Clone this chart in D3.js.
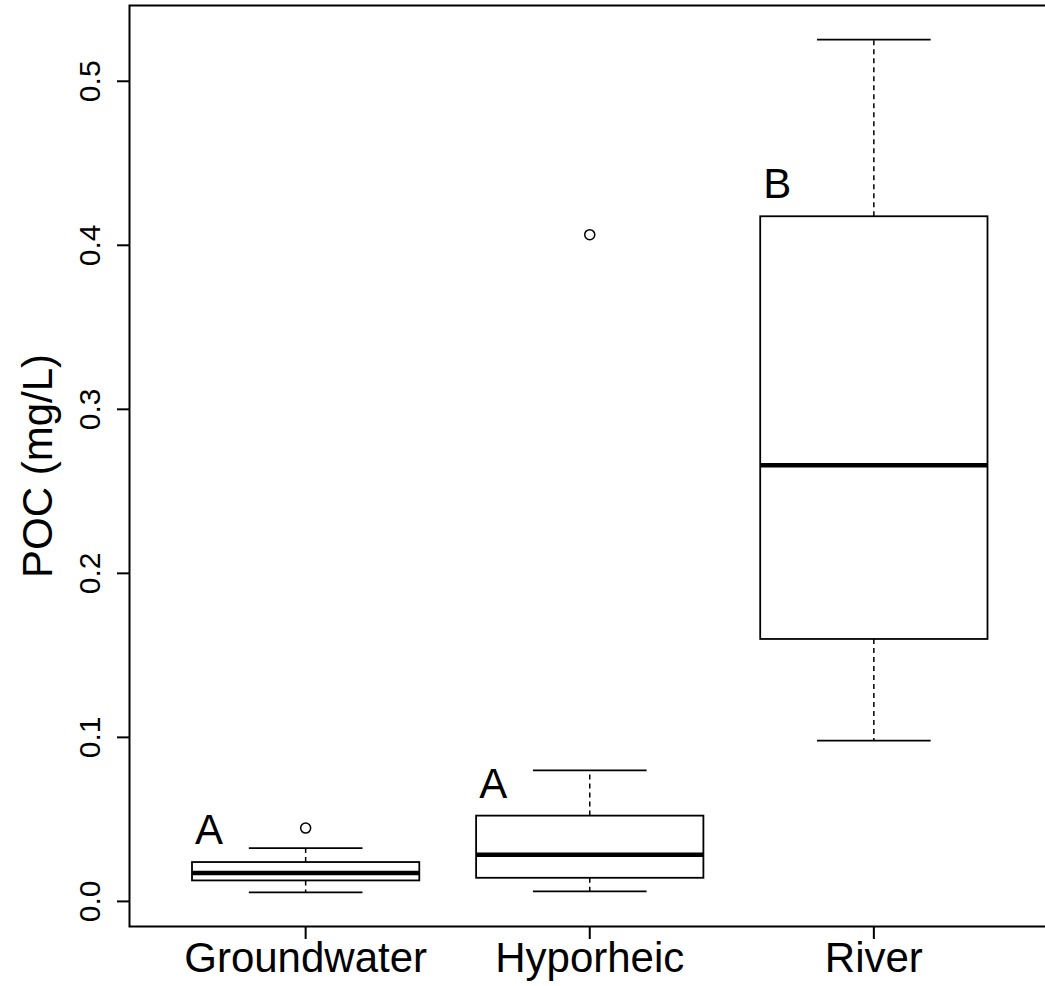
<!DOCTYPE html>
<html>
<head>
<meta charset="utf-8">
<script src="https://cdn.jsdelivr.net/npm/d3@7"></script>
<style>
  body { margin: 0; background: #fff; }
  text { font-family: "Liberation Sans", Arial, sans-serif; fill: #000; }
</style>
</head>
<body>
<div id="chart"></div>
<script>
// box statistics
var categories = ["Groundwater", "Hyporheic", "River"];
var whiskerLow = [0.0055, 0.0061, 0.098];
var q1 = [0.0128, 0.0144, 0.160];
var median = [0.0173, 0.0285, 0.2659];
var q3 = [0.0240, 0.0523, 0.4177];
var whiskerHigh = [0.0325, 0.0799, 0.5254];
var outliers = [[0.0447], [0.4065], []];
var groupLetters = ["A", "A", "B"];
var yTicks = [0.0, 0.1, 0.2, 0.3, 0.4, 0.5];

var width = 1045, height = 986;
var plot = {left: 129.5, top: 5.5, right: 1050, bottom: 926.5};

var svg = d3.select("#chart").append("svg")
    .attr("width", width)
    .attr("height", height);

svg.append("rect").attr("width", width).attr("height", height).attr("fill", "#fff");

// R style 4% range extension
var lo = d3.min(whiskerLow), hi = d3.max(whiskerHigh.concat(d3.merge(outliers)));
var pad = (hi - lo) * 0.04;
var y = d3.scaleLinear().domain([lo - pad, hi + pad]).range([plot.bottom, plot.top]);
var x = d3.scaleLinear().domain([0.5 - 0.12, categories.length + 0.5 + 0.12]).range([plot.left, plot.right]);

var boxHalf = 0.4, stapleHalf = 0.2;

var boxes = svg.append("g").attr("class", "boxes");

categories.forEach(function (c, i) {
    var cx = i + 1;
    var g = boxes.append("g");

    // whiskers
    g.append("line")
        .attr("x1", x(cx)).attr("x2", x(cx))
        .attr("y1", y(q3[i])).attr("y2", y(whiskerHigh[i]))
        .attr("stroke", "#000").attr("stroke-width", 1.5)
        .attr("stroke-dasharray", "5,4");
    g.append("line")
        .attr("x1", x(cx)).attr("x2", x(cx))
        .attr("y1", y(q1[i])).attr("y2", y(whiskerLow[i]))
        .attr("stroke", "#000").attr("stroke-width", 1.5)
        .attr("stroke-dasharray", "5,4");

    // staples
    [whiskerLow[i], whiskerHigh[i]].forEach(function (v) {
        g.append("line")
            .attr("x1", x(cx - stapleHalf)).attr("x2", x(cx + stapleHalf))
            .attr("y1", y(v)).attr("y2", y(v))
            .attr("stroke", "#000").attr("stroke-width", 1.8);
    });

    // box
    g.append("rect")
        .attr("x", x(cx - boxHalf))
        .attr("y", y(q3[i]))
        .attr("width", x(cx + boxHalf) - x(cx - boxHalf))
        .attr("height", y(q1[i]) - y(q3[i]))
        .attr("fill", "#fff")
        .attr("stroke", "#000").attr("stroke-width", 1.8);

    // median
    g.append("line")
        .attr("x1", x(cx - boxHalf)).attr("x2", x(cx + boxHalf))
        .attr("y1", y(median[i])).attr("y2", y(median[i]))
        .attr("stroke", "#000").attr("stroke-width", 4.5);

    // outliers
    g.selectAll("circle").data(outliers[i]).enter()
        .append("circle")
        .attr("cx", x(cx))
        .attr("cy", function (d) { return y(d); })
        .attr("r", 5)
        .attr("fill", "none")
        .attr("stroke", "#000").attr("stroke-width", 1.5);

    // significance letters
    g.append("text")
        .attr("x", x(cx - 0.34))
        .attr("y", y(q3[i] + 0.011))
        .attr("text-anchor", "middle")
        .style("font-size", "42px")
        .text(groupLetters[i]);
});

// plot frame
svg.append("rect")
    .attr("x", plot.left).attr("y", plot.top)
    .attr("width", plot.right - plot.left)
    .attr("height", plot.bottom - plot.top)
    .attr("fill", "none")
    .attr("stroke", "#000").attr("stroke-width", 2);

// y axis
var yAxis = svg.append("g").attr("class", "y axis");
yTicks.forEach(function (t) {
    yAxis.append("line")
        .attr("x1", plot.left - 12.5).attr("x2", plot.left)
        .attr("y1", y(t)).attr("y2", y(t))
        .attr("stroke", "#000").attr("stroke-width", 2);
    yAxis.append("text")
        .attr("transform", "translate(100," + y(t) + ") rotate(-90)")
        .attr("text-anchor", "middle")
        .style("font-size", "30px")
        .text(d3.format(".1f")(t));
});

// x axis
var xAxis = svg.append("g").attr("class", "x axis");
categories.forEach(function (c, i) {
    xAxis.append("line")
        .attr("x1", x(i + 1)).attr("x2", x(i + 1))
        .attr("y1", plot.bottom).attr("y2", plot.bottom + 12.5)
        .attr("stroke", "#000").attr("stroke-width", 2);
    xAxis.append("text")
        .attr("x", x(i + 1))
        .attr("y", 972)
        .attr("text-anchor", "middle")
        .style("font-size", "42px")
        .text(c);
});

svg.append("text")
    .attr("transform", "translate(52," + ((plot.top + plot.bottom) / 2) + ") rotate(-90)")
    .attr("text-anchor", "middle")
    .style("font-size", "42px")
    .text("POC (mg/L)");
</script>
</body>
</html>
